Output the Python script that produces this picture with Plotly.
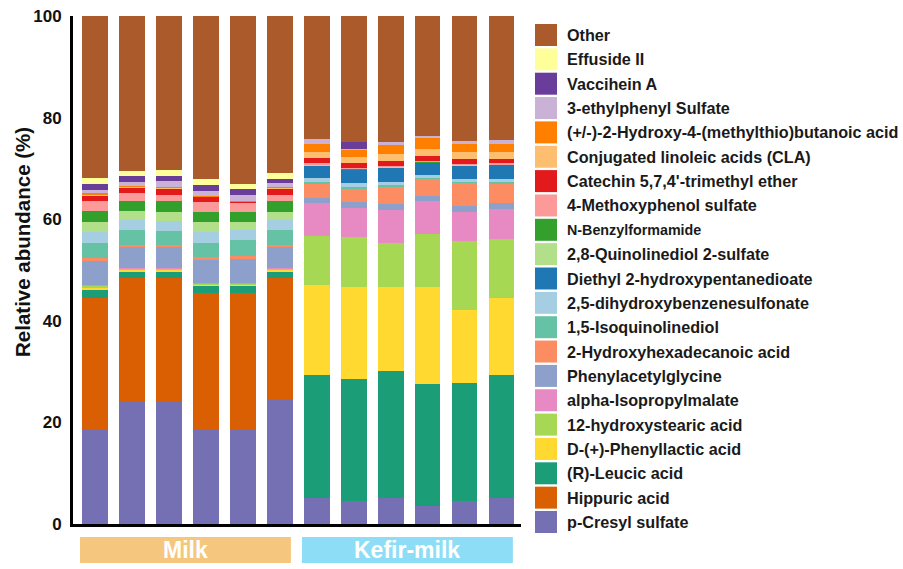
import plotly.graph_objects as go

# Samples: six milk and six kefir-milk replicates
samples = ["M1", "M2", "M3", "M4", "M5", "M6", "K1", "K2", "K3", "K4", "K5", "K6"]

# Relative abundance (%) of each metabolite, bottom of the stack first
p_cresyl_sulfate = [18.5, 24.3, 24.1, 18.8, 18.5, 24.5, 5.1, 4.6, 5.1, 3.5, 4.5, 5.1]
hippuric_acid = [25.9, 24.1, 24.3, 26.6, 26.9, 23.9, 0.0, 0.0, 0.0, 0.0, 0.0, 0.0]
leucic_acid = [1.7, 1.4, 1.4, 1.5, 1.5, 1.4, 24.2, 23.9, 25.0, 24.0, 23.2, 24.2]
phenyllactic_acid = [0.4, 0.3, 0.3, 0.3, 0.2, 0.3, 17.7, 18.1, 16.6, 19.2, 14.4, 15.1]
hydroxystearic_acid = [0.4, 0.2, 0.2, 0.2, 0.2, 0.2, 9.7, 9.8, 8.6, 10.4, 13.6, 11.8]
isopropylmalate = [0.1, 0.1, 0.1, 0.1, 0.1, 0.1, 6.4, 5.9, 6.5, 6.5, 5.8, 5.8]
phenylacetylglycine = [4.7, 4.1, 4.1, 4.5, 4.7, 4.1, 1.1, 1.1, 1.2, 1.0, 1.1, 1.1]
hydroxyhexadecanoic_acid = [0.7, 0.4, 0.4, 0.6, 0.7, 0.4, 2.9, 2.7, 3.3, 3.4, 4.6, 4.0]
isoquinolinediol = [3.0, 3.0, 2.8, 2.8, 3.1, 3.0, 0.3, 0.3, 0.4, 0.2, 0.2, 0.2]
dihydroxybenzenesulfonate = [2.0, 1.9, 2.0, 2.1, 2.0, 1.9, 0.8, 0.7, 0.6, 0.5, 0.6, 0.7]
diethyl_hydroxypentanedioate = [0.0, 0.0, 0.0, 0.0, 0.0, 0.0, 2.3, 2.6, 2.9, 2.4, 2.6, 2.7]
quinolinediol_sulfate = [2.1, 1.9, 1.8, 2.0, 1.6, 1.7, 0.2, 0.1, 0.1, 0.1, 0.1, 0.1]
benzylformamide = [2.1, 1.9, 2.0, 2.0, 2.0, 2.0, 0.1, 0.1, 0.1, 0.1, 0.1, 0.0]
methoxyphenol_sulfate = [1.9, 1.6, 1.3, 1.8, 1.8, 1.3, 0.2, 0.1, 0.1, 0.1, 0.1, 0.2]
catechin_ether = [1.2, 1.1, 1.3, 1.1, 0.1, 1.3, 1.0, 1.0, 1.0, 1.0, 0.9, 0.8]
cla = [0.2, 0.1, 0.1, 0.1, 0.1, 0.1, 1.3, 1.3, 1.3, 1.5, 1.5, 1.5]
hydroxy_methylthio_butanoic = [0.2, 0.2, 0.2, 0.1, 0.1, 0.1, 1.5, 1.5, 1.8, 2.0, 1.6, 1.5]
ethylphenyl_sulfate = [0.7, 0.8, 1.1, 1.0, 1.2, 0.8, 0.9, 0.1, 0.5, 0.5, 0.5, 0.7]
vaccihein_a = [1.2, 1.1, 1.1, 1.1, 1.1, 0.9, 0.0, 1.2, 0.0, 0.0, 0.0, 0.0]
effuside_ii = [1.1, 1.0, 1.1, 1.2, 1.0, 1.0, 0.0, 0.0, 0.0, 0.0, 0.0, 0.0]
other = [31.9, 30.5, 30.3, 32.1, 33.1, 31.0, 24.3, 24.9, 24.9, 23.6, 24.6, 24.5]

series = [
    ("p-Cresyl sulfate", p_cresyl_sulfate, "#7570B3"),
    ("Hippuric acid", hippuric_acid, "#D95F02"),
    ("(R)-Leucic acid", leucic_acid, "#1B9E77"),
    ("D-(+)-Phenyllactic acid", phenyllactic_acid, "#FFD92F"),
    ("12-hydroxystearic acid", hydroxystearic_acid, "#A6D854"),
    ("alpha-Isopropylmalate", isopropylmalate, "#E78AC3"),
    ("Phenylacetylglycine", phenylacetylglycine, "#8DA0CB"),
    ("2-Hydroxyhexadecanoic acid", hydroxyhexadecanoic_acid, "#FC8D62"),
    ("1,5-Isoquinolinediol", isoquinolinediol, "#66C2A5"),
    ("2,5-dihydroxybenzenesulfonate", dihydroxybenzenesulfonate, "#A6CEE3"),
    ("Diethyl 2-hydroxypentanedioate", diethyl_hydroxypentanedioate, "#1F78B4"),
    ("2,8-Quinolinediol 2-sulfate", quinolinediol_sulfate, "#B2DF8A"),
    ("N-Benzylformamide", benzylformamide, "#33A02C"),
    ("4-Methoxyphenol sulfate", methoxyphenol_sulfate, "#FB9A99"),
    ("Catechin 5,7,4'-trimethyl ether", catechin_ether, "#E31A1C"),
    ("Conjugated linoleic acids (CLA)", cla, "#FDBF6F"),
    ("(+/-)-2-Hydroxy-4-(methylthio)butanoic acid", hydroxy_methylthio_butanoic, "#FF7F00"),
    ("3-ethylphenyl Sulfate", ethylphenyl_sulfate, "#CAB2D6"),
    ("Vaccihein A", vaccihein_a, "#6A3D9A"),
    ("Effuside II", effuside_ii, "#FFFF99"),
    ("Other", other, "#AA5A2B"),
]

groups = [("Milk", "#F5C77E", -0.41, 5.30), ("Kefir-milk", "#8EDDF6", 5.60, 11.31)]

FONT = "Liberation Sans, Arial, sans-serif"
W, H = 903, 569
ML, MR, MT, MB = 73, 382, 16, 45
PW, PH = W - ML - MR, H - MT - MB


def px_x(px):
    return (px - ML) / PW


def px_y(py):
    return (H - MB - py) / PH


fig = go.Figure()
for name, vals, color in series:
    fig.add_trace(go.Bar(
        x=samples, y=vals, name=name,
        marker=dict(color=color, line=dict(width=0)),
        showlegend=False,
    ))

shapes = []
annotations = []

# Group bands under the x axis
for label, color, x0, x1 in groups:
    shapes.append(dict(type="rect", xref="x", yref="paper", x0=x0, x1=x1,
                       y0=px_y(563), y1=px_y(537), fillcolor=color,
                       line=dict(width=0), layer="above"))
    annotations.append(dict(text=label, xref="x", yref="paper", x=(x0 + x1) / 2,
                            y=px_y(550), xanchor="center", yanchor="middle",
                            showarrow=False,
                            font=dict(family=FONT, size=23, color="white", weight="bold")))

# Legend drawn as swatches + labels, top entry is the top of the stack
row0, row_step = 35.0, 24.35
for k, (name, vals, color) in enumerate(reversed(series)):
    cy = row0 + row_step * k
    shapes.append(dict(type="rect", xref="paper", yref="paper",
                       x0=px_x(535), x1=px_x(557), y0=px_y(cy + 11), y1=px_y(cy - 11),
                       fillcolor=color, line=dict(width=0)))
    size = 14.3 if name == "N-Benzylformamide" else 16.2
    annotations.append(dict(text=name, xref="paper", yref="paper",
                            x=px_x(565), y=px_y(cy), xanchor="left", yanchor="middle",
                            showarrow=False,
                            font=dict(family=FONT, size=size, color="#1a1a1a",
                                      weight="bold")))

# Y axis title
annotations.append(dict(text="Relative abundance (%)", xref="paper", yref="paper",
                        x=px_x(22), y=px_y(242), xanchor="center", yanchor="middle",
                        textangle=-90, showarrow=False,
                        font=dict(family=FONT, size=20.5, color="#111", weight="bold")))

fig.update_layout(
    barmode="stack",
    bargap=0.3,
    width=W, height=H,
    margin=dict(l=ML, r=MR, t=MT, b=MB, autoexpand=False),
    paper_bgcolor="white", plot_bgcolor="white",
    shapes=shapes, annotations=annotations,
    xaxis=dict(range=[-0.6, 11.53], showticklabels=False, showgrid=False,
               zeroline=False, showline=True, linecolor="black", linewidth=3,
               ticks=""),
    yaxis=dict(range=[0, 100], tickvals=[0, 20, 40, 60, 80, 100],
               showgrid=False, zeroline=False, showline=True, linecolor="black",
               linewidth=3, ticks="", ticklabelstandoff=5,
               tickfont=dict(family=FONT, size=17, color="#111", weight="bold")),
)

fig.write_html("out.html")
